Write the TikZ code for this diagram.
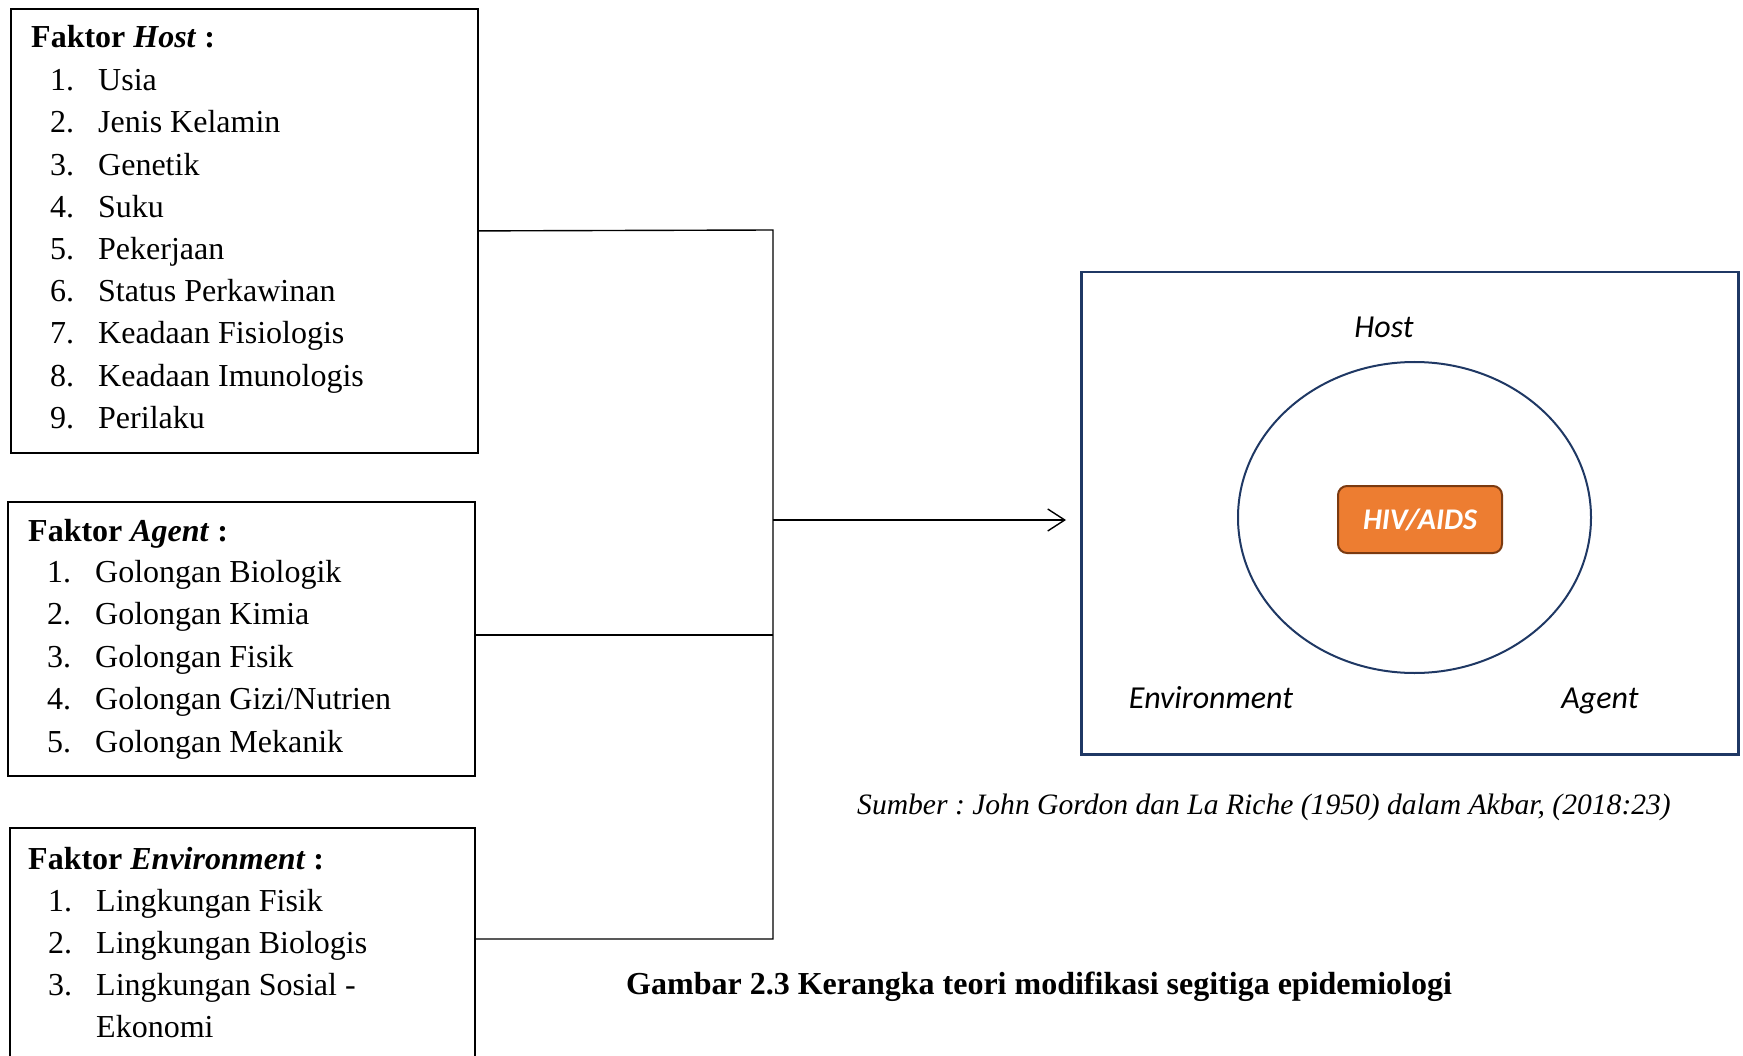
\documentclass[tikz,border=0pt]{standalone}
\usepackage{fontspec}
\setmainfont{Liberation Serif}
\newfontfamily\calibri{Carlito}
\usetikzlibrary{arrows.meta,shapes.geometric}
\definecolor{navy}{HTML}{1F3864}
\definecolor{hivfill}{HTML}{ED7D31}
\definecolor{hivdraw}{HTML}{7B3A10}
\frenchspacing
\begin{document}
\begin{tikzpicture}[x=1pt,y=-1pt,
  txt/.style={anchor=base west,inner sep=0pt,font=\fontsize{32}{38}\selectfont},
  fbox/.style={draw=black,line width=1.8pt,anchor=north west,inner sep=0pt},
  conn/.style={draw=black,line width=1.4pt},
  lbl/.style={anchor=base,inner sep=0pt,font=\calibri\itshape\fontsize{32}{36}\selectfont}]
\useasboundingbox (0,0) rectangle (1743,1056);
\clip (0,0) rectangle (1743,1056);
% left boxes
\node[fbox,minimum width=467pt,minimum height=444pt] (host) at (10,8) {};
\node[fbox,minimum width=467pt,minimum height=274pt] (agent) at (7,501) {};
\node[fbox,minimum width=465pt,minimum height=300pt] (env) at (9,827) {};
% host text
\node[txt] (ht) at (31,48) {\textbf{Faktor \textit{Host} :}};
\foreach \i/\t in {1/Usia,2/Jenis Kelamin,3/Genetik,4/Suku,5/Pekerjaan,6/Status Perkawinan,7/Keadaan Fisiologis,8/Keadaan Imunologis,9/Perilaku}{
  \node[txt] (hn\i) at (50,{90.7+42.2*(\i-1)}) {\i.};
  \node[txt] (hi\i) at (98,{90.7+42.2*(\i-1)}) {\t};
}
% agent text
\node[txt] (at) at (28,541) {\textbf{Faktor \textit{Agent} :}};
\foreach \i/\t in {1/{Golongan Biologik},2/{Golongan Kimia},3/{Golongan Fisik},4/{Golongan Gizi/Nutrien},5/{Golongan Mekanik}}{
  \node[txt] (an\i) at (47,{582+42.5*(\i-1)}) {\i.};
  \node[txt] (ai\i) at (95,{582+42.5*(\i-1)}) {\t};
}
% environment text
\node[txt] (et) at (28,869) {\textbf{Faktor \textit{Environment} :}};
\foreach \i/\t in {1/Lingkungan Fisik,2/Lingkungan Biologis,3/Lingkungan Sosial -}{
  \node[txt] (en\i) at (48,{911+42*(\i-1)}) {\i.};
  \node[txt] (ei\i) at (96,{911+42*(\i-1)}) {\t};
}
\node[txt] (ei4) at (96,1037) {Ekonomi};
% right frame
\node[draw=navy,line width=2.5pt,anchor=north west,inner sep=0pt,minimum width=657pt,minimum height=482pt] (frame) at (1080,271) {};
\node[draw=navy,line width=2pt,ellipse,inner sep=0pt,minimum width=353pt,minimum height=311pt] (circ) at (1414.5,517.5) {};
\node[draw=hivdraw,fill=hivfill,line width=2pt,rounded corners=9pt,inner sep=0pt,minimum width=164pt,minimum height=67pt,
  text=white,font=\calibri\bfseries\itshape\fontsize{30}{34}\selectfont] (hiv) at (1420,519.5) {HIV/AIDS};
\node[lbl] (lhost) at (1384,338) {Host};
\node[lbl] (lenv) at (1211,708) {Environment};
\node[lbl] (lagent) at (1600,708) {Agent};
% connectors
\coordinate (jH) at (773,230);
\coordinate (jA) at (773,635);
\coordinate (jM) at (773,520);
\coordinate (jE) at (773,939);
\draw[conn] (host.east) -- (jH) -- (jE) -- (env.east |- jE);
\draw[conn] (agent.east |- jA) -- (jA);
\draw[conn,-{Straight Barb[length=17pt,width=22pt,line width=1.4pt]},shorten >=14pt] (jM) -- (frame.west |- jM);
% captions
\node[anchor=base west,inner sep=0pt,font=\itshape\fontsize{29.6}{34}\selectfont] (src) at (857,814) {Sumber : John Gordon dan La Riche (1950) dalam Akbar, (2018:23)};
\node[anchor=base west,inner sep=0pt,font=\bfseries\fontsize{32}{36}\selectfont] (cap) at (626,994) {Gambar 2.3 Kerangka teori modifikasi segitiga epidemiologi};
\end{tikzpicture}
\end{document}
